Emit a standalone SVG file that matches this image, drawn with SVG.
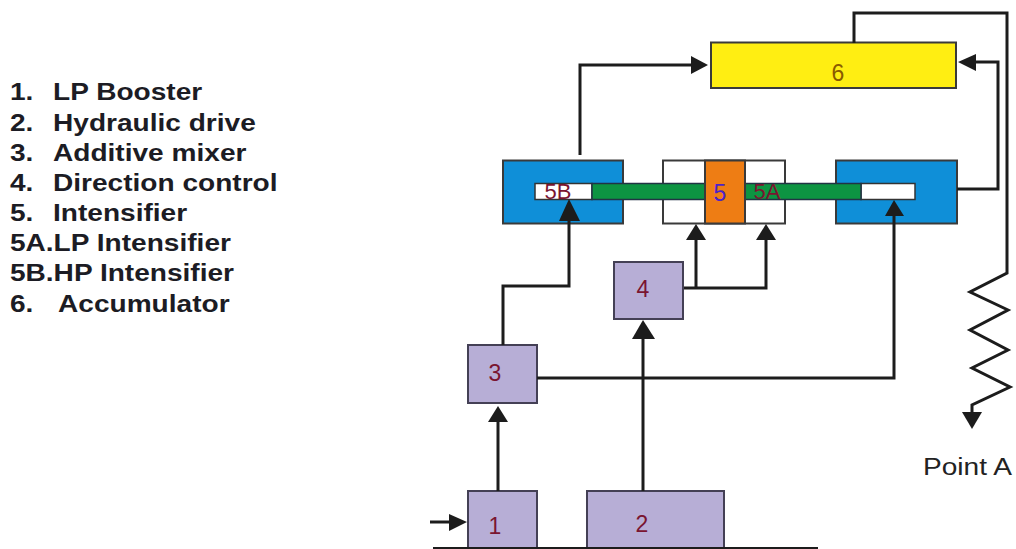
<svg xmlns="http://www.w3.org/2000/svg" width="1016" height="549" viewBox="0 0 1016 549">
<style>
.n{stroke:#3a3a3a;stroke-width:2}
.lav{fill:#b7aed6;stroke:#444055;stroke-width:2}
.c{fill:none;stroke:#1c1c1c;stroke-width:3;stroke-linejoin:miter}
.h{fill:#1c1c1c;stroke:none}
.l{font-family:"Liberation Sans",Arial,sans-serif;font-size:24px;fill:#1c1c24;font-weight:bold}
.t{font-family:"Liberation Sans",Arial,sans-serif;font-size:23px;fill:#7a1530;text-anchor:middle}
</style>
<rect width="1016" height="549" fill="#fff"/>
<g id="legend" transform="scale(1.17 1)">
<text class="l" x="8.500" y="100">1.</text><text class="l" x="45.300" y="100">LP Booster</text>
<text class="l" x="8.500" y="131">2.</text><text class="l" x="45.300" y="131">Hydraulic drive</text>
<text class="l" x="8.500" y="161">3.</text><text class="l" x="45.300" y="161">Additive mixer</text>
<text class="l" x="8.500" y="191">4.</text><text class="l" x="45.300" y="191">Direction control</text>
<text class="l" x="8.500" y="221">5.</text><text class="l" x="45.300" y="221">Intensifier</text>
<text class="l" x="8.500" y="251">5A.LP Intensifier</text>
<text class="l" x="8.500" y="281">5B.HP Intensifier</text>
<text class="l" x="8.500" y="312">6.</text><text class="l" x="49.600" y="312">Accumulator</text>
</g>
<g id="node-6"><rect class="n" x="711" y="42.500" width="245" height="45.500" fill="#ffee12"/><text class="t" x="838" y="81" style="fill:#8a5a00">6</text></g>
<g id="node-5b"><rect class="n" x="503" y="160.500" width="120" height="63" fill="#0f8fd8"/><rect x="535" y="183.500" width="57" height="16" fill="#fff" stroke="#333" stroke-width="1.500"/></g>
<g id="node-5-body"><rect class="n" x="663" y="160.500" width="122" height="63" fill="#fff"/></g>
<g id="node-right"><rect class="n" x="836" y="160.500" width="121" height="63" fill="#0f8fd8"/><rect x="861" y="183.500" width="54" height="16" fill="#fff" stroke="#333" stroke-width="1.500"/></g>
<g id="rod"><rect x="592" y="183.500" width="113" height="16" fill="#0d9442" stroke="#234" stroke-width="1.500"/><rect x="745" y="183.500" width="116" height="16" fill="#0d9442" stroke="#234" stroke-width="1.500"/></g>
<g id="node-5"><rect class="n" x="705" y="160.500" width="40" height="63" fill="#ee7d14"/><text class="t" x="720" y="201" style="fill:#4a22c8">5</text></g>
<g id="labels-5"><text class="t" x="558" y="199" style="font-size:22px">5B</text><text class="t" x="767" y="199" style="font-size:22px">5A</text></g>
<g id="node-4"><rect class="lav" x="614" y="262" width="69" height="57"/><text class="t" x="643" y="297">4</text></g>
<g id="node-3"><rect class="lav" x="468" y="345" width="69" height="58"/><text class="t" x="495" y="381">3</text></g>
<g id="node-1"><rect class="lav" x="468" y="491" width="69" height="58"/><text class="t" x="495" y="534">1</text></g>
<g id="node-2"><rect class="lav" x="587" y="491" width="137" height="58"/><text class="t" x="642" y="532">2</text></g>
<g id="connectors">
<path d="M433 548H818" stroke="#1c1c1c" stroke-width="2" fill="none"/>
<path class="c" d="M580 155V65H696"/><path class="h" d="M708 65L691 56V74Z"/>
<path class="c" d="M503 345V286H569V210"/><path class="h" d="M569 199L559 221H580Z"/>
<path class="c" d="M684 288H766V236M696 288V236"/><path class="h" d="M696 224L686 240H706Z"/><path class="h" d="M766 224L756 240H776Z"/>
<path class="c" d="M537 378H894V210"/><path class="h" d="M894 200L885 216H904Z"/>
<path class="c" d="M643 491V335"/><path class="h" d="M643 320L632 339H655Z"/>
<path class="c" d="M498 491V420"/><path class="h" d="M498 406L488 422H508Z"/>
<path class="c" d="M430 522H455"/><path class="h" d="M467 522L449 514V531Z"/>
<path class="c" d="M957 189H998V62H970"/><path class="h" d="M958 62L976 54V71Z"/>
<path class="c" d="M854 43V13H1007V273L970 292L1008 310L970 330L1008 350L972 368L1010 387L972 405V415"/><path class="h" d="M972 429L962 412H982Z"/>
</g>
<text transform="translate(923 475) scale(1.17 1)" font-family="'Liberation Sans',Arial,sans-serif" font-size="24" fill="#222">Point A</text>
</svg>
